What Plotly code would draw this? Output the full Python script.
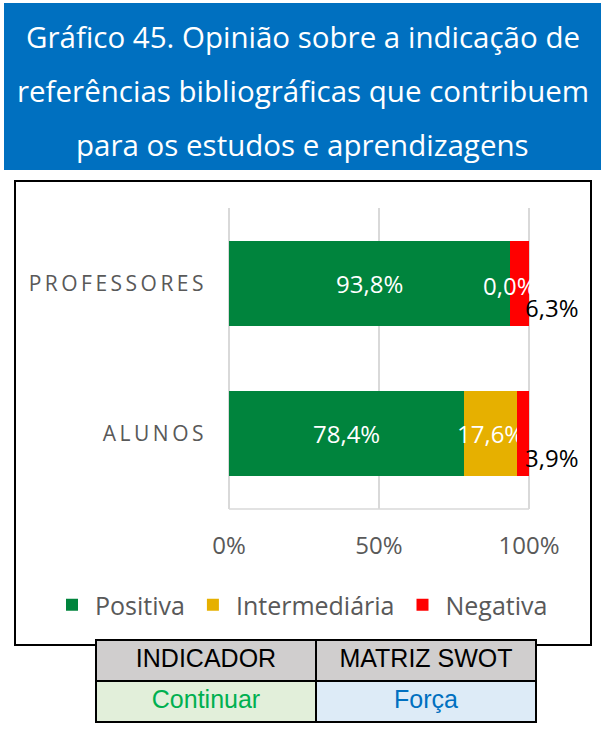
import plotly.graph_objects as go

# ---- data ----
categories = ["ALUNOS", "PROFESSORES"]
positiva = [78.4, 93.8]
intermediaria = [17.6, 0.0]
negativa = [3.9, 6.3]
series_names = ["Positiva", "Intermediária", "Negativa"]
series_colors = ["#00843D", "#E6B000", "#FF0000"]
x_ticks = [0, 50, 100]
x_tick_labels = ["0%", "50%", "100%"]
title_lines = [
    "Gráfico 45. Opinião sobre a indicação de",
    "referências bibliográficas que contribuem",
    "para os estudos e aprendizagens",
]
table_header = ["INDICADOR", "MATRIZ SWOT"]
table_cells = [["Continuar"], ["Força"]]

W, H = 605, 729
FONT = "Open Sans, Noto Sans, DejaVu Sans, sans-serif"
GRAY = "#595959"
PAD = 0.5  # small range padding so the 0% and 100% gridlines are drawn


def px(x):
    return x / W


def py(y):
    return 1 - y / H


def pct(v):
    return f"{v:.1f}".replace(".", ",") + "%"


def spaced(s):
    return "\u2009".join(s)


fig = go.Figure()

values = [positiva, intermediaria, negativa]
for name, color, vals in zip(series_names, series_colors, values):
    show_text = name != "Negativa"
    fig.add_trace(go.Bar(
        y=categories, x=vals, name=name, orientation="h",
        marker=dict(color=color, line=dict(width=0)),
        text=[pct(v) if (show_text and v > 0) else "" for v in vals],
        textposition="inside", insidetextanchor="middle",
        textangle=0, constraintext="none",
        textfont=dict(family=FONT, size=24, color="white"),
        cliponaxis=False, hoverinfo="skip",
    ))

annotations = []
# labels for zero-width intermediate segments (white, at the segment position)
for cat, p, m in zip(categories, positiva, intermediaria):
    if m == 0:
        annotations.append(dict(
            x=p + m / 2, y=cat, xref="x", yref="y", text=pct(m), showarrow=False,
            font=dict(family=FONT, size=24, color="white"),
            xanchor="center", yanchor="middle", yshift=-2,
        ))
# negative labels sit just past the end of each bar, slightly lowered
for cat, p, m, n in zip(categories, positiva, intermediaria, negativa):
    annotations.append(dict(
        x=p + m + n, y=cat, xref="x", yref="y", text=pct(n), showarrow=False,
        font=dict(family=FONT, size=24, color="black"),
        xanchor="left", yanchor="middle", xshift=-6, yshift=-24,
    ))

# title lines
for line, yc in zip(title_lines, [37, 90, 145]):
    annotations.append(dict(
        x=0.5, y=py(yc), xref="paper", yref="paper", text=line, showarrow=False,
        font=dict(family=FONT, size=29.5, color="white"),
        xanchor="center", yanchor="middle",
    ))

shapes = [
    # blue title band
    dict(type="rect", xref="paper", yref="paper", x0=px(4), x1=px(601), y0=py(170), y1=py(3),
         fillcolor="#0070C0", line=dict(width=0), layer="below"),
    # chart frame
    dict(type="rect", xref="paper", yref="paper", x0=px(15), x1=px(591), y0=py(645), y1=py(181),
         fillcolor="rgba(0,0,0,0)", line=dict(color="black", width=2), layer="below"),
]

TABLE_FONT = "Liberation Sans Narrow, Arial Narrow, sans-serif"
fig.add_trace(go.Table(
    domain=dict(x=[px(96), px(536)], y=[py(723), py(640)]),
    columnwidth=[220, 220],
    header=dict(
        values=table_header, height=41, align="center",
        fill_color="#D0CECE", line=dict(color="black", width=1.5),
        font=dict(family=TABLE_FONT, size=25, color="black"),
    ),
    cells=dict(
        values=table_cells, height=41, align="center",
        fill_color=[["#E2EFDA"], ["#DDEBF7"]], line=dict(color="black", width=1.5),
        font=dict(family=TABLE_FONT, size=25, color=[["#00B050"], ["#0070C0"]]),
    ),
))

# x axis: 0 -> 229px, 100 -> 529px (3 px per unit)
x0_px, x100_px = 229, 529
ppu = (x100_px - x0_px) / 100

fig.update_layout(
    template="none",
    width=W, height=H,
    margin=dict(l=0, r=0, t=0, b=0, pad=0, autoexpand=False),
    paper_bgcolor="white", plot_bgcolor="white",
    barmode="stack", bargap=0.433,
    showlegend=True,
    legend=dict(
        orientation="h", x=px(49), y=py(605), xanchor="left", yanchor="middle",
        font=dict(family=FONT, size=25, color=GRAY), traceorder="normal",
        itemwidth=36,
        itemclick=False, itemdoubleclick=False, bgcolor="rgba(0,0,0,0)",
    ),
    xaxis=dict(
        domain=[px(x0_px - PAD * ppu), px(x100_px + PAD * ppu)],
        range=[-PAD, 100 + PAD], automargin=False,
        tickvals=x_ticks, ticktext=x_tick_labels,
        showgrid=True, gridcolor="#D9D9D9", gridwidth=1.5,
        showline=False, zeroline=False, ticks="", ticklabelstandoff=20,
        tickfont=dict(family=FONT, size=24, color=GRAY), fixedrange=True,
    ),
    yaxis=dict(
        domain=[py(509), py(208)], range=[-0.5, 1.5], automargin=False,
        tickvals=categories, ticktext=[spaced(c) for c in categories],
        showgrid=False, zeroline=False, ticks="",
        showline=False, ticklabelstandoff=23,
        tickfont=dict(family=FONT, size=21, color=GRAY), fixedrange=True,
    ),
    annotations=annotations,
    shapes=shapes + [
        # bottom edge of the plotting area
        dict(type="line", xref="x", yref="paper", x0=0, x1=100, y0=py(509), y1=py(509),
             line=dict(color="#D9D9D9", width=1.5), layer="below"),
    ],
)

fig.write_html("out.html")
